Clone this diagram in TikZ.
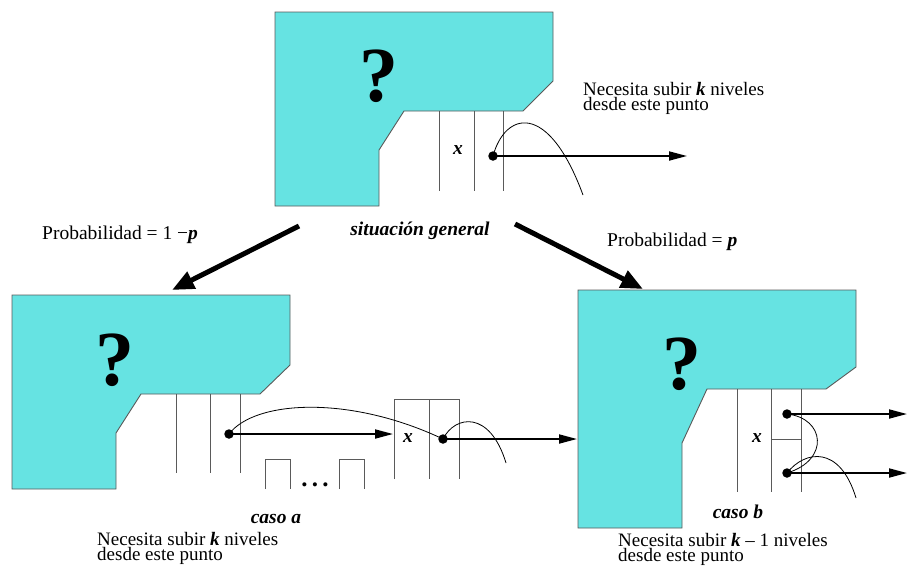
\documentclass[tikz,border=0pt]{standalone}
\usepackage{fontspec}
\setmainfont{Liberation Serif}
\usetikzlibrary{arrows.meta}
\definecolor{blobfill}{RGB}{102,227,226}
\definecolor{edgegray}{RGB}{90,90,90}
\begin{document}
\begin{tikzpicture}[x=1pt,y=-1pt,
  blob/.style={fill=blobfill,draw=edgegray,line width=0.9pt},
  level/.style={draw=edgegray,line width=0.9pt},
  ptr/.style={-{Triangle[length=18pt,width=9pt]},line width=1.8pt},
  bigarrow/.style={-{Triangle[length=22pt,width=18pt]},line width=5pt},
  dotnode/.style={circle,fill=black,inner sep=0pt,minimum size=9.5pt},
  curve/.style={line width=0.8pt},
  txt/.style={font=\fontsize{19.5}{13}\selectfont,inner sep=0pt,align=left},
  note/.style={font=\fontsize{19}{13}\selectfont,inner sep=0pt,align=left},
  bi/.style={font=\fontsize{19.5}{13}\selectfont\bfseries\itshape,inner sep=0pt},
  qmark/.style={font=\fontsize{78}{78}\selectfont\bfseries,inner sep=0pt}]
\useasboundingbox (0,0) rectangle (907,568);

% ---------- top: situacion general ----------
\draw[blob] (275,12) -- (553,12) -- (553,81) -- (523,111) -- (404,111) -- (379,150) -- (379,206) -- (275,206) -- cycle;
\node[qmark,anchor=base] (q1) at (379,101) {?};
\draw[level] (439,111) -- (439,191);
\draw[level] (474,111) -- (474,191);
\draw[level] (503,111) -- (503,191);
\node[bi] (x1) at (458,150) {x};
\node[dotnode] (d1) at (493,156) {};
\coordinate (e1) at (687,156);
\draw[ptr] (d1.center) -- (e1);
\coordinate (c1) at (583,195);
\draw[curve] (d1.center) .. controls (505,112) and (548,100) .. (c1);
\node[note,anchor=base west] (n1a) at (583,95) {Necesita subir \textbf{\textit{k}} niveles};
\node[note,anchor=base west] (n1b) at (583,110) {desde este punto};
\node[bi,anchor=base] (sg) at (420,235) {situación general};

% ---------- big arrows ----------
\coordinate (a1s) at (299,226);
\coordinate (a1e) at (172,290);
\coordinate (a2s) at (515,224);
\coordinate (a2e) at (643,289);
\draw[bigarrow] (a1s) -- (a1e);
\draw[bigarrow] (a2s) -- (a2e);
\node[txt,anchor=base west] (pl) at (42,239) {Probabilidad = 1 −\textbf{\textit{p}}};
\node[txt,anchor=base west] (pr) at (607,246) {Probabilidad = \textbf{\textit{p}}};

% ---------- left: caso a ----------
\draw[blob] (12,295) -- (290,295) -- (290,365) -- (260,394) -- (141,394) -- (116,433) -- (116,489) -- (12,489) -- cycle;
\node[qmark,anchor=base] (q2) at (115,385) {?};
\draw[level] (176,394) -- (176,473);
\draw[level] (210,394) -- (210,473);
\draw[level] (240,394) -- (240,473);
\draw[level] (394,479) -- (394,399) -- (459,399) -- (459,479);
\draw[level] (429,399) -- (429,479);
\draw[level] (265,489) -- (265,459) -- (290,459) -- (290,489);
\draw[level] (339,489) -- (339,459) -- (364,459) -- (364,489);
\node[font=\fontsize{25}{25}\selectfont\bfseries,inner sep=0pt,anchor=base] (dots) at (315,486) {.\,.\,.};
\node[bi] (x2) at (408,438) {x};
\node[dotnode] (d2) at (229,434) {};
\node[dotnode] (d3) at (443,439) {};
\coordinate (e2) at (393,434);
\coordinate (e3) at (577,439);
\draw[ptr] (d2.center) -- (e2);
\draw[ptr] (d3.center) -- (e3);
\draw[curve] (d2.center) .. controls (255,400) and (350,395) .. (d3.center);
\coordinate (c3) at (506,463);
\draw[curve] (d3.center) .. controls (455,415) and (490,410) .. (c3);
\node[bi,anchor=base] (ca) at (276,523) {caso a};
\node[note,anchor=base west] (n2a) at (97,545) {Necesita subir \textbf{\textit{k}} niveles};
\node[note,anchor=base west] (n2b) at (97,560) {desde este punto};

% ---------- right: caso b ----------
\draw[blob] (578,290) -- (856,290) -- (856,367) -- (826,389) -- (707,389) -- (682,443) -- (682,528) -- (578,528) -- cycle;
\node[qmark,anchor=base] (q3) at (682,389) {?};
\draw[level] (737,389) -- (737,492);
\draw[level] (771,389) -- (771,492);
\draw[level] (801,389) -- (801,492);
\draw[level] (771,439) -- (801,439);
\node[bi] (x3) at (757,438) {x};
\node[dotnode] (d4) at (787,414) {};
\node[dotnode] (d5) at (787,473) {};
\coordinate (e4) at (907,414);
\coordinate (e5) at (907,473);
\draw[ptr] (d4.center) -- (e4);
\draw[ptr] (d5.center) -- (e5);
\draw[curve] (d4.center) .. controls (825,418) and (830,460) .. (d5.center);
\coordinate (c5) at (856,498);
\draw[curve] (d5.center) .. controls (805,450) and (840,445) .. (c5);
\node[bi,anchor=base] (cb) at (738,518) {caso b};
\node[note,anchor=base west] (n3a) at (618,546) {Necesita subir \textbf{\textit{k}} – 1 niveles};
\node[note,anchor=base west] (n3b) at (618,561) {desde este punto};
\end{tikzpicture}
\end{document}
